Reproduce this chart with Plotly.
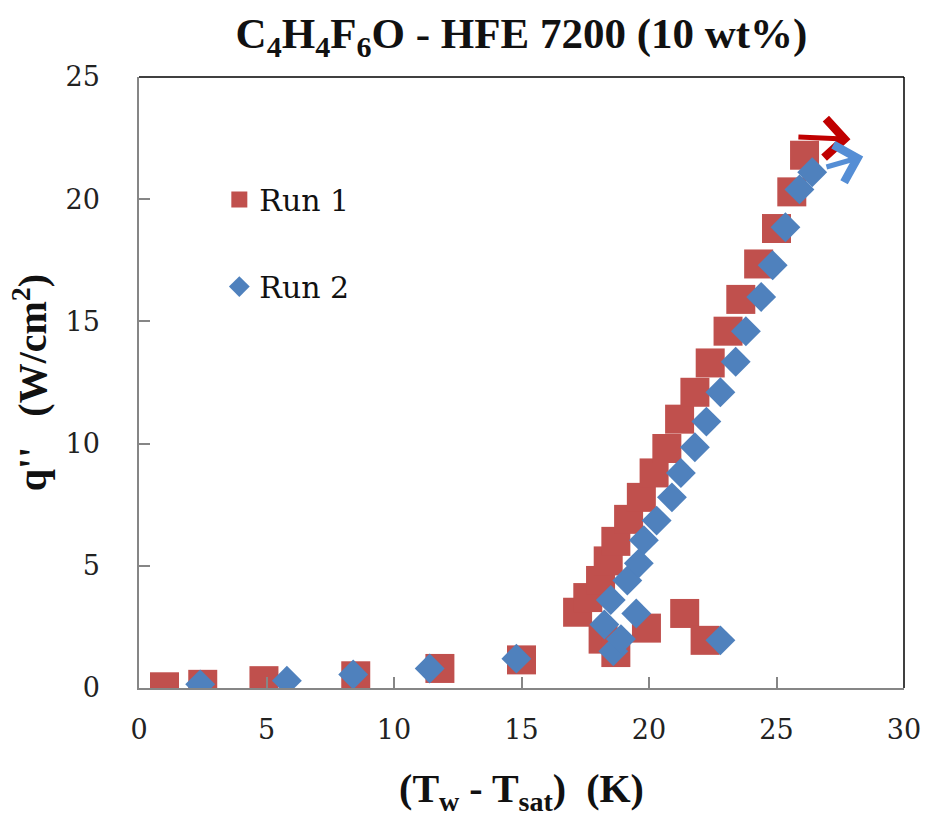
import plotly.graph_objects as go

# Run 1: wall superheat (K) and heat flux (W/cm^2)
run1_dt = [1.0, 2.5, 4.9, 8.5, 11.8, 15.0, 18.2, 18.7, 19.9, 21.4, 22.2,
           17.2, 17.6, 18.1, 18.4, 18.7, 19.2, 19.7, 20.2, 20.7, 21.2,
           21.8, 22.4, 23.1, 23.6, 24.3, 25.0, 25.6, 26.1]
run1_q = [0.05, 0.15, 0.3, 0.5, 0.8, 1.15, 2.0, 1.45, 2.45, 3.05, 1.95,
          3.1, 3.7, 4.4, 5.2, 6.0, 6.9, 7.8, 8.8, 9.8, 11.0,
          12.1, 13.3, 14.6, 15.9, 17.35, 18.8, 20.3, 21.8]

# Run 2
run2_dt = [2.4, 5.8, 8.4, 11.4, 14.8, 18.6, 18.9, 19.5, 22.8,
           18.25, 18.5, 19.15, 19.6, 19.8, 20.3, 20.9, 21.25, 21.8, 22.25,
           22.8, 23.4, 23.8, 24.4, 24.85, 25.35, 25.9, 26.4]
run2_q = [0.15, 0.3, 0.55, 0.8, 1.2, 1.5, 2.0, 3.05, 1.95,
          2.6, 3.6, 4.4, 5.1, 6.05, 6.85, 7.8, 8.8, 9.85, 10.9,
          12.1, 13.35, 14.6, 16.0, 17.3, 18.85, 20.4, 21.1]

x_ticks = [0, 5, 10, 15, 20, 25, 30]
y_ticks = [0, 5, 10, 15, 20, 25]

# CHF arrows (tail -> head) for each run
arrow1 = dict(tail=(25.8, 22.55), head=(27.9, 22.45))
arrow2 = dict(tail=(26.9, 21.3), head=(28.4, 21.75))

RED = "#C0504D"
BLUE = "#4F81BD"
BOLD_FONT = "Liberation Serif, Times New Roman, serif"
REG_FONT = "DejaVu Serif, Liberation Serif, serif"

fig = go.Figure()
fig.add_trace(go.Scatter(
    x=run1_dt, y=run1_q, mode="markers", name="Run 1",
    legendgroup="r1",
    marker=dict(symbol="square", size=29, color=RED, line=dict(width=0)),
))
fig.add_trace(go.Scatter(
    x=run2_dt, y=run2_q, mode="markers", name="Run 2",
    legendgroup="r2",
    marker=dict(symbol="diamond", size=23, color=BLUE, line=dict(width=0)),
))

for arr, col in ((arrow1, "#C00000"), (arrow2, "#558ED5")):
    fig.add_annotation(
        x=arr["head"][0], y=arr["head"][1],
        ax=arr["tail"][0], ay=arr["tail"][1],
        xref="x", yref="y", axref="x", ayref="y",
        text="", showarrow=True, arrowhead=4, arrowsize=1.5,
        arrowwidth=5, arrowcolor=col,
    )

tick_font = dict(family=REG_FONT, size=27, color="#222222")
label_font = dict(family=BOLD_FONT, size=40, color="#111111")

fig.update_layout(
    width=933, height=821,
    margin=dict(l=139, r=20, t=77, b=133),
    paper_bgcolor="white", plot_bgcolor="white",
    font=dict(family=REG_FONT),
    title=dict(
        text="<b>C<sub>4</sub>H<sub>4</sub>F<sub>6</sub>O - HFE 7200 (10 wt%)</b>",
        x=0.5, xref="paper", xanchor="center",
        y=1 - 33 / 821, yanchor="middle",
        font=dict(family=BOLD_FONT, size=43, color="#111111"),
    ),
    xaxis=dict(
        range=[0, 30], tickvals=x_ticks, ticktext=[str(v) for v in x_ticks],
        showgrid=False, zeroline=False,
        showline=True, linecolor="#868686", linewidth=1.5,
        ticks="inside", ticklen=11, tickcolor="#868686", tickwidth=1.5,
        tickfont=tick_font, ticklabelstandoff=17,
        title=dict(text="<b>(T<sub>w</sub> - T<sub>sat</sub>)  (K)</b>",
                   font=label_font, standoff=30),
    ),
    yaxis=dict(
        range=[0, 25], tickvals=y_ticks, ticktext=[str(v) for v in y_ticks],
        showgrid=False, zeroline=False,
        showline=True, linecolor="#868686", linewidth=1.5,
        ticks="inside", ticklen=11, tickcolor="#868686", tickwidth=1.5,
        tickfont=tick_font, ticklabelstandoff=32,
        title=dict(text="<b>q''   (W/cm<sup>2</sup>)</b>",
                   font=label_font, standoff=6),
    ),
    legend=dict(
        x=0.105, y=0.842, xanchor="left", yanchor="top",
        font=dict(family=REG_FONT, size=30, color="#111111"),
        bgcolor="rgba(0,0,0,0)", traceorder="grouped", tracegroupgap=45,
        itemwidth=30,
    ),
    showlegend=True,
    shapes=[
        dict(type="line", xref="paper", yref="paper", x0=0, x1=1, y0=1, y1=1,
             line=dict(color="#000000", width=1.5)),
        dict(type="line", xref="paper", yref="paper", x0=1, x1=1, y0=0, y1=1,
             line=dict(color="#000000", width=1.5)),
    ],
)

fig.write_html("out.html")
